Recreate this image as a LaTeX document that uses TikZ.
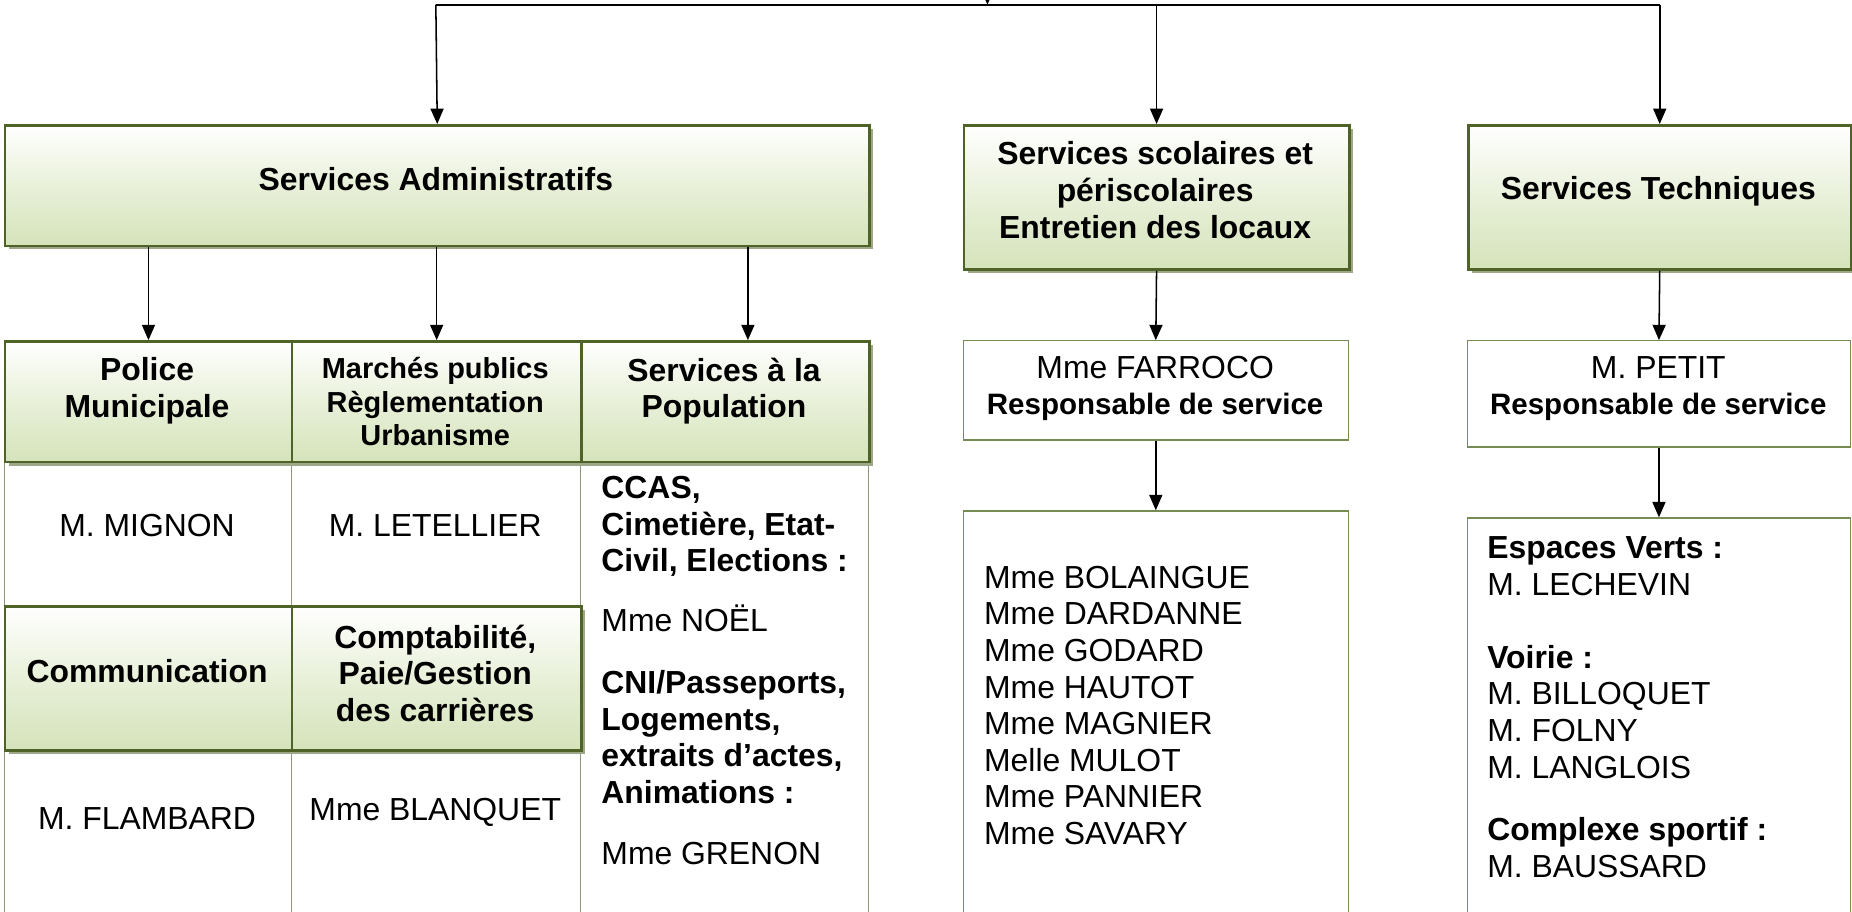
\documentclass[tikz,border=0pt]{standalone}
\usepackage{fontspec}
\setmainfont{Liberation Sans}
\usetikzlibrary{arrows.meta,shadows,calc}
\definecolor{gborder}{RGB}{79,98,40}
\definecolor{gbot}{RGB}{213,227,186}
\definecolor{gmid}{RGB}{232,240,217}
\definecolor{gshadow}{RGB}{158,168,136}
\definecolor{cellline}{RGB}{140,152,120}
\definecolor{listline}{RGB}{118,140,84}
\begin{document}
\begin{tikzpicture}[x=1pt,y=-1pt,
  gbox/.style={draw=gborder, line width=2.4pt, top color=white, bottom color=gbot, middle color=gmid,
    anchor=north west, inner sep=0pt,
    drop shadow={shadow xshift=3pt, shadow yshift=-3pt, fill=gshadow, opacity=1}},
  cellbox/.style={draw=cellline, line width=0.8pt, fill=white, anchor=north west, inner sep=0pt},
  listbox/.style={draw=listline, line width=1.1pt, fill=white, anchor=north west, inner sep=0pt},
  hb/.style={font=\bfseries\fontsize{27}{31}\selectfont, align=center, inner sep=0pt},
  hbs/.style={font=\bfseries\fontsize{24.5}{28.5}\selectfont, align=center, inner sep=0pt},
  tr/.style={font=\fontsize{27}{31}\selectfont, align=center, inner sep=0pt},
  tl/.style={font=\fontsize{27}{31}\selectfont, align=left, anchor=north west, inner sep=0pt},
  arr/.style={-{Triangle[length=13pt,width=11pt]}, line width=1.3pt},
  ln/.style={line width=1.6pt},
]
\useasboundingbox (0,0) rectangle (1568,772);
\clip (0,0) rectangle (1568,772);

% white table cells
\node[cellbox, minimum width=243pt, minimum height=122pt] (mignon) at (3,390) {};
\node[cellbox, minimum width=245pt, minimum height=122pt] (letel) at (246,390) {};
\node[cellbox, minimum width=244pt, minimum height=400pt] (popcell) at (491,390) {};
\node[cellbox, minimum width=243pt, minimum height=160pt] (flamb) at (3,634) {};
\node[cellbox, minimum width=245pt, minimum height=160pt] (blanq) at (246,634) {};

% green boxes
\node[gbox, minimum width=732pt, minimum height=102pt] (admin) at (3,105) {};
\node[gbox, minimum width=326pt, minimum height=122pt] (scol) at (815,105) {};
\node[gbox, minimum width=324pt, minimum height=122pt] (tech) at (1242,105) {};
\node[gbox, minimum width=243pt, minimum height=102pt] (police) at (3,288) {};
\node[gbox, minimum width=245pt, minimum height=102pt] (marches) at (246,288) {};
\node[gbox, minimum width=244pt, minimum height=102pt] (pop) at (491,288) {};
\node[gbox, minimum width=243pt, minimum height=122pt] (comm) at (3,512) {};
\node[gbox, minimum width=245pt, minimum height=122pt] (compta) at (246,512) {};

% white boxes
\node[listbox, minimum width=326pt, minimum height=84pt] (farroco) at (815,288) {};
\node[listbox, minimum width=324pt, minimum height=90pt] (petit) at (1242,288) {};
\node[listbox, minimum width=326pt, minimum height=400pt] (scolist) at (815,432) {};
\node[listbox, minimum width=324pt, minimum height=400pt] (techlist) at (1242,438) {};

% header texts
\node[hb] (tadmin) at (369,152) {Services Administratifs};
\node[hb] (tscol) at (978,161) {Services scolaires et\\périscolaires\\Entretien des locaux};
\node[hb] (ttech) at (1404,162) {Services Techniques};
\node[hb] (tpolice) at (124.5,331) {Police\\Municipale};
\node[hbs] (tmarches) at (368.5,340) {Marchés publics\\Règlementation\\Urbanisme};
\node[hb] (tpop) at (613,331) {Services à la\\Population};
\node[hb] (tcomm) at (124.5,568) {Communication};
\node[hb] (tcompta) at (368.5,570) {Comptabilité,\\Paie/Gestion\\des carrières};

% names in cells
\node[tr] (nmignon) at (124.5,445) {M. MIGNON};
\node[tr] (nletel) at (368.5,445) {M. LETELLIER};
\node[tr] (nflamb) at (124.5,693) {M. FLAMBARD};
\node[tr] (nblanq) at (368.5,688) {Mme BLANQUET};

\node[tl] (npop) at (509,403) {\textbf{CCAS,}\\\textbf{Cimetière, Etat-}\\\textbf{Civil, Elections :}\\[20pt]Mme NOËL\\[21pt]\textbf{CNI/Passeports,}\\\textbf{Logements,}\\\textbf{extraits d’actes,}\\\textbf{Animations :}\\[21pt]Mme GRENON};

\node[tr] (nfarroco) at (978,329) {Mme FARROCO\\[-1pt]{\bfseries\fontsize{25}{30}\selectfont Responsable de service}};
\node[tr] (npetit) at (1404,329) {M. PETIT\\[-1pt]{\bfseries\fontsize{25}{30}\selectfont Responsable de service}};

\node[tl] (nscolist) at (833,479) {Mme BOLAINGUE\\Mme DARDANNE\\Mme GODARD\\Mme HAUTOT\\Mme MAGNIER\\Melle MULOT\\Mme PANNIER\\Mme SAVARY};
\node[tl] (ntechlist) at (1259,454) {\textbf{Espaces Verts :}\\M. LECHEVIN\\[31pt]\textbf{Voirie :}\\M. BILLOQUET\\M. FOLNY\\M. LANGLOIS\\[22pt]\textbf{Complexe sportif :}\\M. BAUSSARD};

% connectors
\coordinate (topl) at (369,4);
\coordinate (topm) at (836,4);
\coordinate (topin) at (836,-30);
\draw[ln] (topl) -- (tech.north |- topl);
\draw[arr] (topin) -- (topm);
\draw[arr] (topl) -- (admin.north);
\draw[arr] (scol.north |- topl) -- (scol.north);
\draw[arr] (tech.north |- topl) -- (tech.north);
\draw[arr] (admin.south -| police.north) -- (police.north);
\draw[arr] (admin.south -| marches.north) -- (marches.north);
\coordinate (popin) at ([xshift=19pt]pop.north);
\draw[arr] (admin.south -| popin) -- (popin);
\draw[arr] (scol.south) -- (farroco.north);
\draw[arr] (farroco.south) -- (scolist.north);
\draw[arr] (tech.south) -- (petit.north);
\draw[arr] (petit.south) -- (techlist.north);
\end{tikzpicture}
\end{document}
